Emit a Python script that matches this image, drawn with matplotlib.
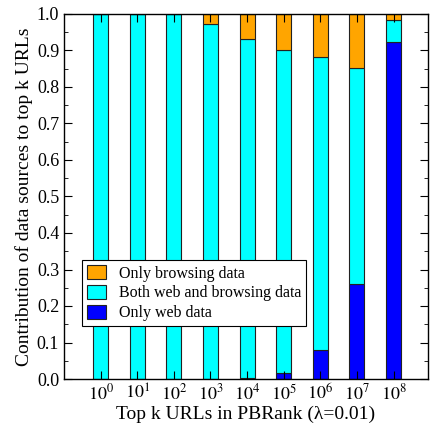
import numpy as np
import matplotlib
matplotlib.use("Agg")
import matplotlib.pyplot as plt
from matplotlib.ticker import MultipleLocator

plt.rcParams['font.family'] = ['Liberation Serif', 'DejaVu Serif']
plt.rcParams['mathtext.fontset'] = 'stix'

# data
exponents = [0, 1, 2, 3, 4, 5, 6, 7, 8]
only_web = [0.0, 0.0, 0.0, 0.0, 0.003, 0.017, 0.079, 0.26, 0.922]
both = [1.0, 1.0, 1.0, 0.972, 0.928, 0.883, 0.803, 0.593, 0.061]
only_browsing = [0.0, 0.0, 0.0, 0.028, 0.069, 0.10, 0.118, 0.147, 0.017]

x = np.arange(len(exponents))
w = 0.41
ec = '#222222'

fig = plt.figure(figsize=(4.37, 4.26), dpi=100)
ax = fig.add_axes([64/437, 47/426, 364/437, 365/426])

ax.bar(x, only_web, w, color='#0000ff', edgecolor=ec, linewidth=0.8,
       label='Only web data')
ax.bar(x, both, w, bottom=only_web, color='#00ffff', edgecolor=ec,
       linewidth=0.8, label='Both web and browsing data')
bot2 = np.array(only_web) + np.array(both)
ax.bar(x, only_browsing, w, bottom=bot2, color='#ffa500', edgecolor=ec,
       linewidth=0.8, label='Only browsing data')

ax.set_xlim(-1.0, 8.94)
ax.set_ylim(0, 1.0)
ax.set_xticks(x)
ax.set_xticklabels(['$10^{%d}$' % e for e in exponents])
ax.yaxis.set_major_locator(MultipleLocator(0.1))
ax.yaxis.set_minor_locator(MultipleLocator(0.05))
ax.yaxis.set_major_formatter(matplotlib.ticker.FormatStrFormatter('%.1f'))
ax.tick_params(direction='in', which='both', top=True, right=True,
               labelsize=13)
ax.tick_params(which='major', length=6)
ax.tick_params(which='minor', length=3)
for s in ax.spines.values():
    s.set_linewidth(1.0)

ax.set_xlabel('Top k URLs in PBRank (λ=0.01)', fontsize=14, labelpad=1)
ax.set_ylabel('Contribution of data sources to top k URLs', fontsize=14,
              labelpad=3)

h, l = ax.get_legend_handles_labels()
leg = ax.legend(h[::-1], l[::-1], loc='lower left',
                bbox_to_anchor=(0.05, 0.145), fontsize=11.5, frameon=True,
                fancybox=False, edgecolor='black', framealpha=1,
                borderpad=0.3, labelspacing=0.2, handlelength=1.2,
                handleheight=1.0, borderaxespad=0)
leg.get_frame().set_linewidth(0.8)

fig.savefig('out.png', dpi=100)
